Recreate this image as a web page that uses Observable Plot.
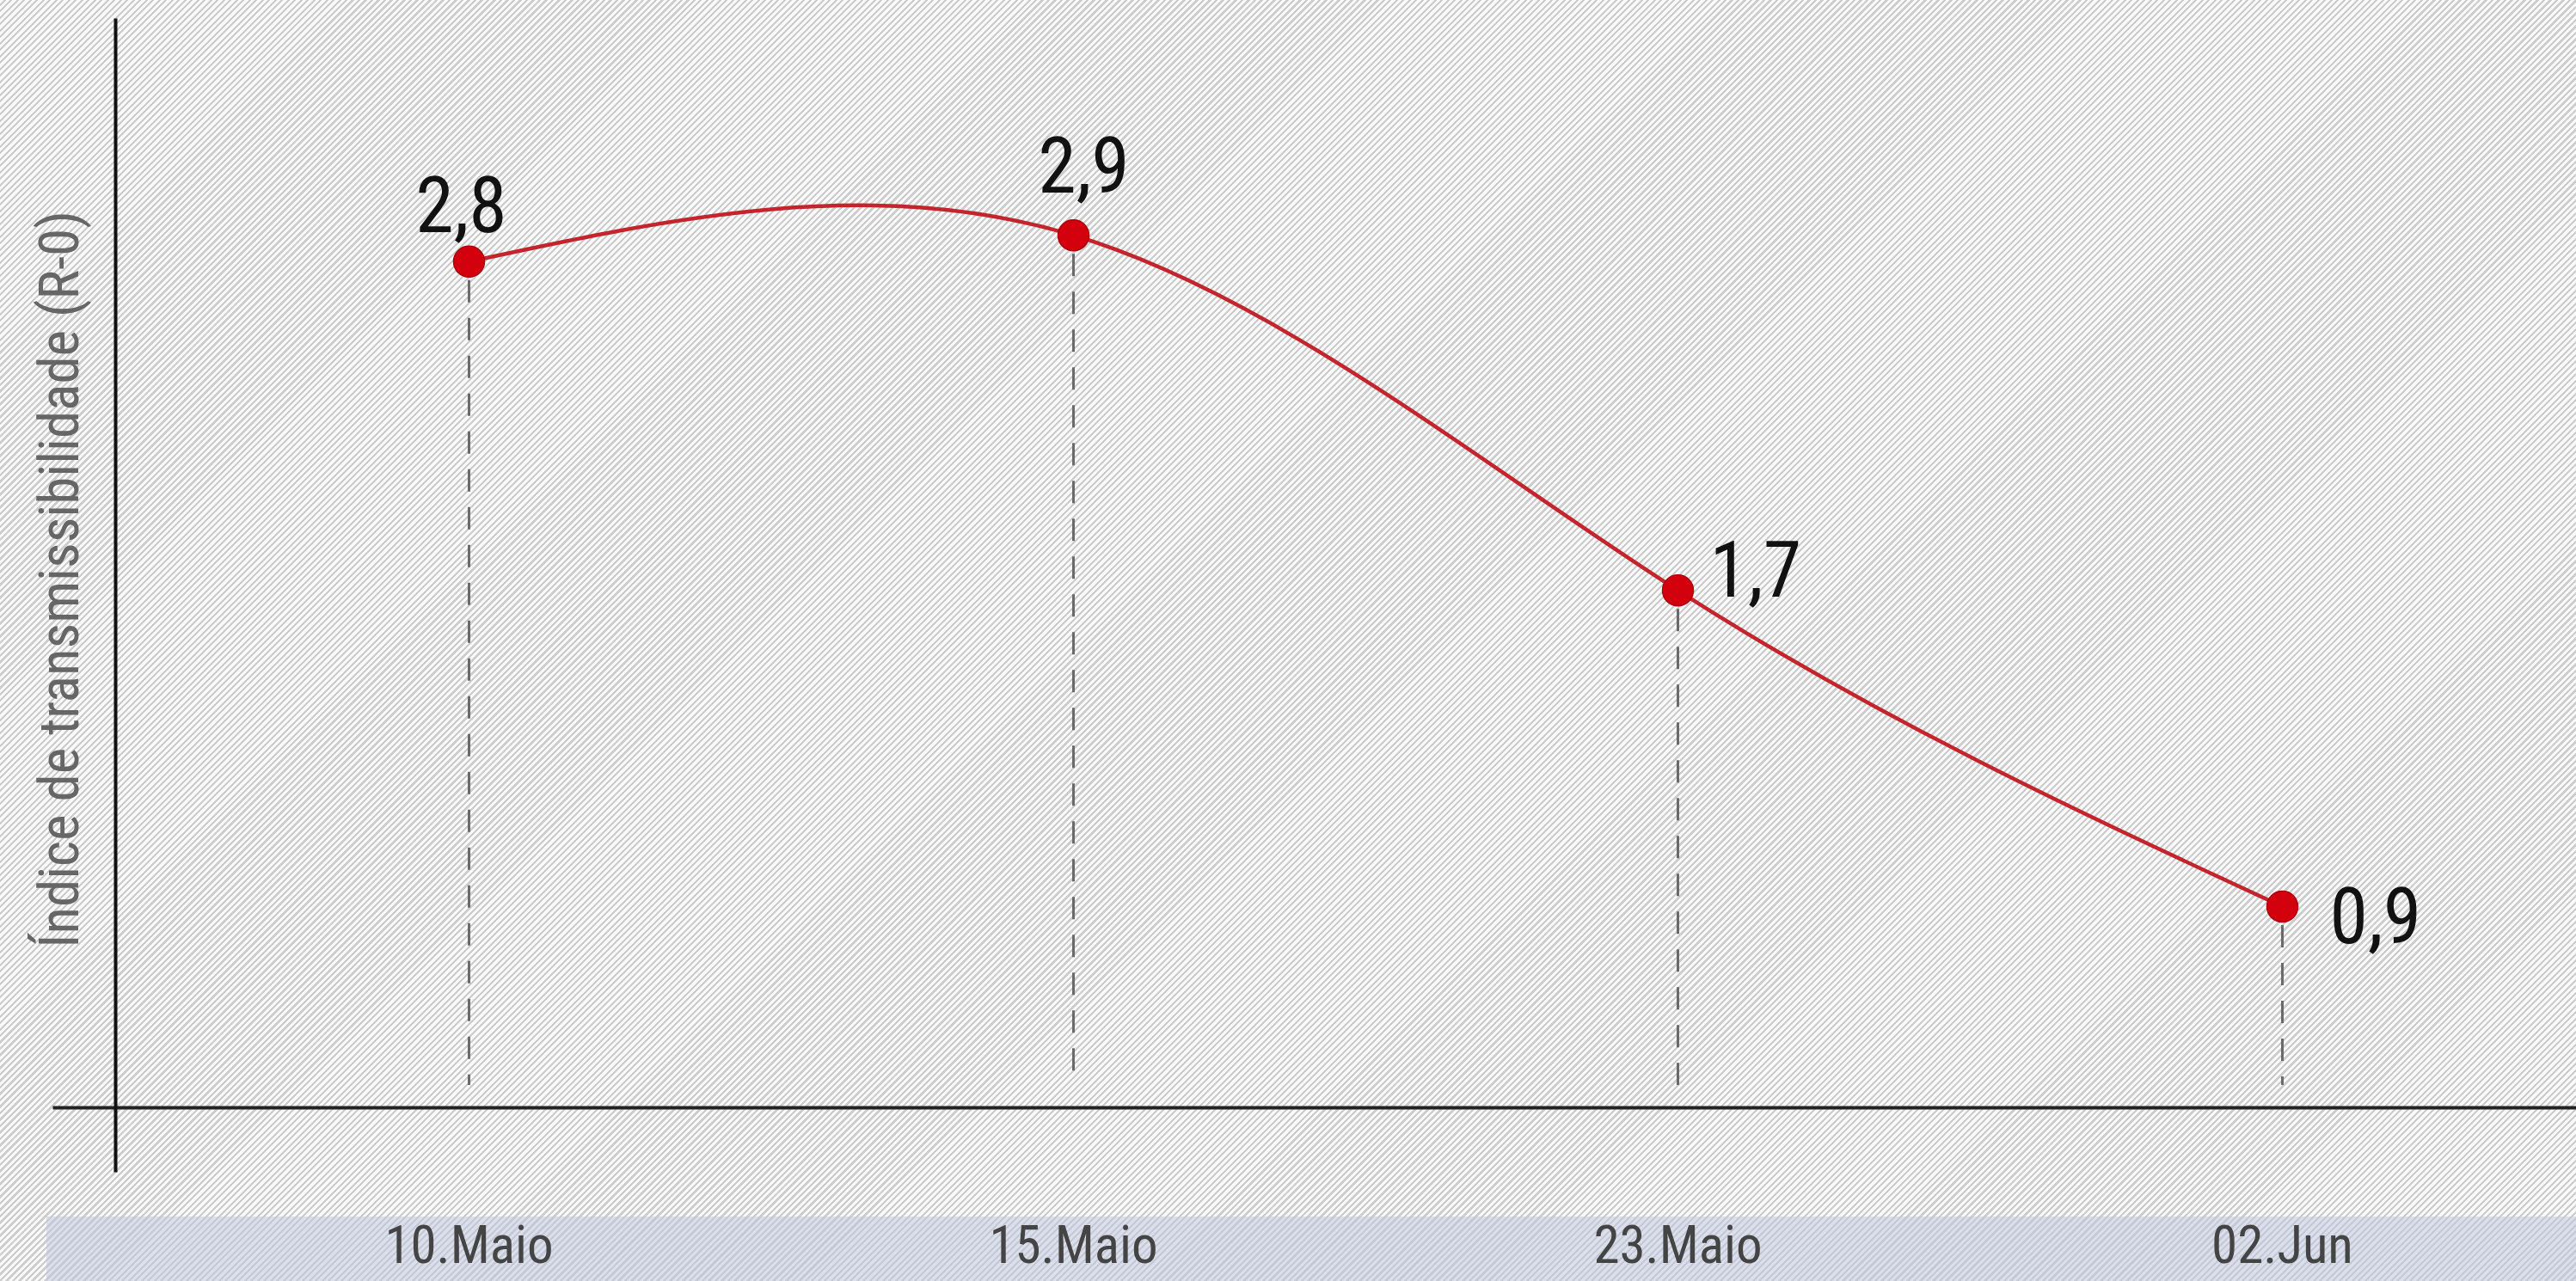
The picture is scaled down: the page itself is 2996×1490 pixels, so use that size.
<!DOCTYPE html>
<html><head><meta charset="utf-8">
<script src="https://cdn.jsdelivr.net/npm/d3@7"></script>
<script src="https://cdn.jsdelivr.net/npm/@observablehq/plot@0.6"></script>
<style>
html,body{margin:0;padding:0;background:#eee;}
#wrap{position:relative;width:2996px;height:1490px;overflow:hidden;
 background: repeating-linear-gradient(135deg, #fafafa 0px, #fafafa 3px, #cdcdcd 3px, #cdcdcd 5.3px);}
#band{position:absolute;left:54px;top:1415px;right:0;bottom:0;background:rgba(190,198,222,0.52);}
#chart{position:absolute;left:0;top:0;}
</style></head><body>
<div id="wrap"><div id="band"></div><div id="chart"></div></div>
<script>
const dates = ["10.Maio", "15.Maio", "23.Maio", "02.Jun"];
const r0 = [2.8, 2.9, 1.7, 0.9];
const valueLabels = ["2,8", "2,9", "1,7", "0,9"];
const yLabel = "Índice de transmissibilidade (R-0)";

const data = dates.map((d, i) => ({date: d, r: r0[i], label: valueLabels[i]}));
const font = '"Liberation Sans Narrow","Roboto Condensed","Arial Narrow",Roboto,sans-serif';
const lab = (i, opts) => Plot.text(data, {
  filter: d => d.date === dates[i], x: "date", y: "r", text: "label",
  fontSize: 90, fill: "#111", fontFamily: font, ...opts
});

const chart = Plot.plot({
  width: 2996, height: 1490,
  marginLeft: 134, marginRight: 0, marginTop: 23, marginBottom: 228,
  style: {background: "transparent", overflow: "visible", fontFamily: font},
  x: {type: "point", domain: dates, range: [545, 2654], padding: 0, axis: null},
  y: {type: "sqrt", domain: [0.5, 3], range: [1304, 243], axis: null},
  marks: [
    Plot.ruleX(data, {x: "date", y1: "r", y2: 0, clip: true, stroke: "#6a6a6a", strokeWidth: 3, strokeDasharray: "26,18", insetTop: 22}),
    Plot.frame({anchor: "bottom", stroke: "#222", strokeWidth: 4, insetLeft: -71, insetBottom: -26}),
    Plot.frame({anchor: "left", stroke: "#111", strokeWidth: 4, insetBottom: -99}),
    Plot.line(data, {x: "date", y: "r", curve: "natural", stroke: "#c4242c", strokeWidth: 4.5}),
    Plot.dot(data, {x: "date", y: "r", r: 18, fill: "#d3000d", stroke: "#b0000a", strokeWidth: 1.5}),
    lab(0, {textAnchor: "middle", lineAnchor: "bottom", dx: -9, dy: -34}),
    lab(1, {textAnchor: "middle", lineAnchor: "bottom", dx: 12, dy: -50}),
    lab(2, {textAnchor: "start", lineAnchor: "bottom", dx: 37, dy: 7}),
    lab(3, {textAnchor: "start", lineAnchor: "bottom", dx: 55, dy: 43}),
    Plot.axisX({tickSize: 0, tickPadding: 163, fontSize: 61, fill: "#444", label: null, fontFamily: font}),
    Plot.text([yLabel], {frameAnchor: "left", rotate: -90, textAnchor: "middle", lineAnchor: "middle", dx: -64, dy: 31, fontSize: 65, fill: "#666", fontFamily: font})
  ]
});
document.getElementById("chart").appendChild(chart);
</script>
</body></html>
